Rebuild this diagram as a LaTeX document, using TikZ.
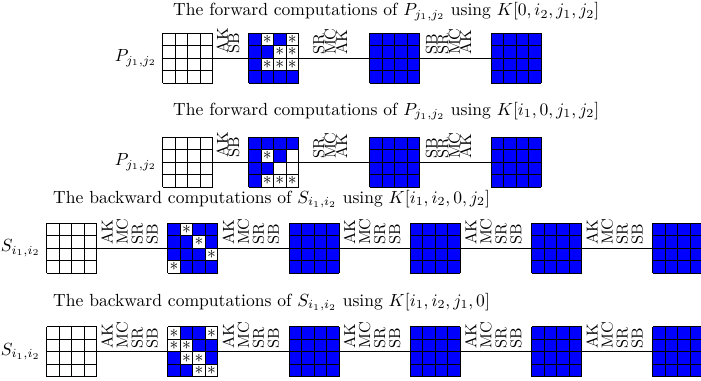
\documentclass[tikz,border=0pt]{standalone}
\usetikzlibrary{calc,positioning}

\tikzset{
  gridbox/.style={minimum size=1cm, inner sep=0pt, outer sep=0pt},
  oplabel/.style={rotate=90, anchor=east, align=left, inner sep=0pt, font=\small},
  rowtitle/.style={anchor=west},
  markcell/.style={inner sep=0pt},
}

\newcommand{\keymark}{$\ast$}

% cell lines of a 4x4 state
\newcommand{\statelines}{%
  \foreach \i in {0,...,4} {
    \draw (0.25*\i,0) -- (0.25*\i,1);
    \draw (0,0.25*\i) -- (1,0.25*\i);
  }}

% 4x4 state in one colour
\newcommand{\plainstate}[2]{%
  \begin{scope}[shift={(#1.south west)}]
    \fill[#2] (0,0) rectangle (1,1);
    \statelines
  \end{scope}}

% 4x4 state, blue with white cells given as col/row/mark (row 0 = bottom)
\newcommand{\keystate}[2]{%
  \begin{scope}[shift={(#1.south west)}]
    \fill[blue] (0,0) rectangle (1,1);
    \foreach \c/\r/\m in {#2} {
      \fill[white] (0.25*\c,0.25*\r) rectangle ++(0.25,0.25);
      \node[markcell] (#1-\c\r) at (0.25*\c+0.125,0.25*\r+0.125) {\m};
    }
    \statelines
  \end{scope}}

\begin{document}
\begin{tikzpicture}
  \useasboundingbox (0,0) rectangle (14.02,7.62);

  % forward, first key
  \node[rowtitle] (ta) at (3.34,7.39) {The forward computations of $P_{j_1,j_2}$ using $K[0,i_2,j_1,j_2]$};
  \node[gridbox] (a1) at (3.755,6.46) {};
  \node[gridbox] (a2) at (5.47,6.46) {};
  \node[gridbox] (a3) at (7.89,6.46) {};
  \node[gridbox] (a4) at (10.32,6.46) {};
  \node[left=0pt of a1] (pa) {$P_{j_1,j_2}$};
  \draw (a1) -- (a2) -- (a3) -- (a4);
  \plainstate{a1}{white}
  \keystate{a2}{1/3/\keymark, 3/3/\keymark, 2/2/\keymark, 3/2/\keymark, 1/1/\keymark, 2/1/\keymark, 3/1/\keymark}
  \plainstate{a3}{blue}
  \plainstate{a4}{blue}
  \node[oplabel] (la1) at (4.56,7.06) {AK\\[-4.5pt]SB};
  \node[oplabel] (la2) at (6.60,7.06) {SR\\[-4.5pt]MC\\[-4.5pt]AK};
  \node[oplabel] (la3) at (8.97,7.06) {SB\\[-4.5pt]SR\\[-4.5pt]MC\\[-4.5pt]AK};

  % forward, second key
  \node[rowtitle] (tb) at (3.34,5.40) {The forward computations of $P_{j_1,j_2}$ using $K[i_1,0,j_1,j_2]$};
  \node[gridbox] (b1) at (3.755,4.38) {};
  \node[gridbox] (b2) at (5.47,4.38) {};
  \node[gridbox] (b3) at (7.89,4.38) {};
  \node[gridbox] (b4) at (10.32,4.38) {};
  \node[left=0pt of b1] (pb) {$P_{j_1,j_2}$};
  \draw (b1) -- (b2) -- (b3) -- (b4);
  \plainstate{b1}{white}
  \keystate{b2}{1/2/\keymark, 3/2/{}, 2/1/{}, 3/1/{}, 1/0/\keymark, 2/0/\keymark, 3/0/\keymark}
  \plainstate{b3}{blue}
  \plainstate{b4}{blue}
  \node[oplabel] (lb1) at (4.56,4.98) {AK\\[-4.5pt]SB};
  \node[oplabel] (lb2) at (6.60,4.98) {SR\\[-4.5pt]MC\\[-4.5pt]AK};
  \node[oplabel] (lb3) at (8.97,4.98) {SB\\[-4.5pt]SR\\[-4.5pt]MC\\[-4.5pt]AK};

  % backward, third key
  \node[rowtitle] (tc) at (0.94,3.64) {The backward computations of $S_{i_1,i_2}$ using $K[i_1,i_2,0,j_2]$};
  \foreach \k in {1,...,6}
    \node[gridbox] (c\k) at ({-0.995+2.425*\k},2.66) {};
  \node[left=0pt of c1] (sc) {$S_{i_1,i_2}$};
  \foreach \k [count=\j from 2] in {1,...,5} {
    \draw (c\k) -- (c\j);
    \node[oplabel] (lc\k) at ($(c\k.east)!0.5!(c\j.west)+(-0.05,0.6)$) {AK\\[-2.5pt]MC\\[-2.5pt]SR\\[-2.5pt]SB};
  }
  \plainstate{c1}{white}
  \keystate{c2}{1/3/\keymark, 2/2/\keymark, 3/1/\keymark, 0/0/\keymark}
  \foreach \k in {3,...,6} {\plainstate{c\k}{blue}}

  % backward, fourth key
  \node[rowtitle] (td) at (0.94,1.58) {The backward computations of $S_{i_1,i_2}$ using $K[i_1,i_2,j_1,0]$};
  \foreach \k in {1,...,6}
    \node[gridbox] (d\k) at ({-0.995+2.425*\k},0.585) {};
  \node[left=0pt of d1] (sd) {$S_{i_1,i_2}$};
  \foreach \k [count=\j from 2] in {1,...,5} {
    \draw (d\k) -- (d\j);
    \node[oplabel] (ld\k) at ($(d\k.east)!0.5!(d\j.west)+(-0.05,0.6)$) {AK\\[-2.5pt]MC\\[-2.5pt]SR\\[-2.5pt]SB};
  }
  \plainstate{d1}{white}
  \keystate{d2}{0/3/\keymark, 3/3/\keymark, 0/2/\keymark, 1/2/\keymark, 1/1/\keymark, 2/1/\keymark, 2/0/\keymark, 3/0/\keymark}
  \foreach \k in {3,...,6} {\plainstate{d\k}{blue}}
\end{tikzpicture}
\end{document}
